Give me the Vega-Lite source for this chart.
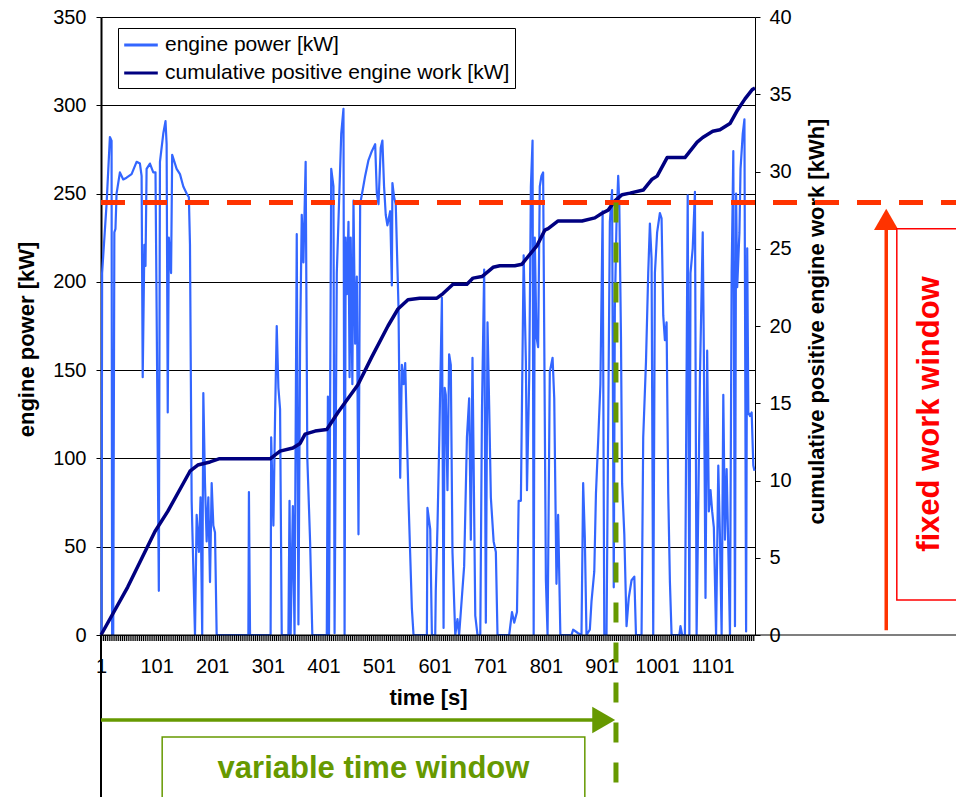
{
  "$schema": "https://vega.github.io/schema/vega-lite/v6.json",
  "width": 654,
  "height": 618,
  "autosize": {"type": "none"},
  "padding": {"left": 101, "top": 17, "right": 201, "bottom": 162},
  "background": "white",
  "config": {
    "font": "Liberation Sans",
    "view": {"stroke": null},
    "axis": {
      "domainColor": "#000",
      "tickColor": "#000",
      "labelColor": "#000",
      "titleColor": "#000",
      "labelFont": "Liberation Sans",
      "titleFont": "Liberation Sans",
      "labelFontSize": 20,
      "titleFontSize": 22,
      "titleFontWeight": "bold"
    }
  },
  "datasets": {
    "power": [
      {"t": 1, "kw": 0}, {"t": 2, "kw": 0}, {"t": 3, "kw": 205}, {"t": 11, "kw": 244}, {"t": 17, "kw": 282}, {"t": 20, "kw": 280}, {"t": 21, "kw": 0}, {"t": 23, "kw": 0}, {"t": 25, "kw": 228}, {"t": 27, "kw": 230}, {"t": 29, "kw": 250}, {"t": 35, "kw": 262}, {"t": 41, "kw": 258}, {"t": 47, "kw": 259}, {"t": 56, "kw": 261}, {"t": 65, "kw": 268}, {"t": 71, "kw": 267}, {"t": 74, "kw": 260}, {"t": 76, "kw": 146}, {"t": 79, "kw": 221}, {"t": 81, "kw": 209}, {"t": 83, "kw": 264}, {"t": 89, "kw": 267}, {"t": 95, "kw": 262}, {"t": 99, "kw": 262}, {"t": 101, "kw": 185}, {"t": 105, "kw": 25}, {"t": 107, "kw": 268}, {"t": 113, "kw": 284}, {"t": 117, "kw": 291}, {"t": 119, "kw": 278}, {"t": 121, "kw": 126}, {"t": 123, "kw": 225}, {"t": 127, "kw": 205}, {"t": 129, "kw": 272}, {"t": 137, "kw": 264}, {"t": 143, "kw": 261}, {"t": 149, "kw": 254}, {"t": 155, "kw": 250}, {"t": 159, "kw": 248}, {"t": 161, "kw": 221}, {"t": 164, "kw": 76}, {"t": 170, "kw": 0}, {"t": 173, "kw": 68}, {"t": 177, "kw": 47}, {"t": 180, "kw": 78}, {"t": 183, "kw": 0}, {"t": 185, "kw": 137}, {"t": 188, "kw": 86}, {"t": 191, "kw": 53}, {"t": 194, "kw": 78}, {"t": 197, "kw": 30}, {"t": 200, "kw": 86}, {"t": 203, "kw": 62}, {"t": 206, "kw": 58}, {"t": 209, "kw": 0},
      {"t": 266, "kw": 0}, {"t": 267, "kw": 81}, {"t": 269, "kw": 0}, {"t": 306, "kw": 0}, {"t": 307, "kw": 112}, {"t": 311, "kw": 62}, {"t": 314, "kw": 124}, {"t": 317, "kw": 175}, {"t": 320, "kw": 140}, {"t": 323, "kw": 128}, {"t": 326, "kw": 0}, {"t": 338, "kw": 0}, {"t": 340, "kw": 76}, {"t": 342, "kw": 0}, {"t": 346, "kw": 73}, {"t": 349, "kw": 0}, {"t": 353, "kw": 227}, {"t": 356, "kw": 6}, {"t": 359, "kw": 165}, {"t": 362, "kw": 238}, {"t": 365, "kw": 211}, {"t": 369, "kw": 268}, {"t": 372, "kw": 100}, {"t": 377, "kw": 53}, {"t": 381, "kw": 0},
      {"t": 407, "kw": 0}, {"t": 409, "kw": 135}, {"t": 411, "kw": 0}, {"t": 415, "kw": 264}, {"t": 419, "kw": 254}, {"t": 421, "kw": 1}, {"t": 425, "kw": 205}, {"t": 433, "kw": 284}, {"t": 437, "kw": 298}, {"t": 439, "kw": 0}, {"t": 441, "kw": 225}, {"t": 443, "kw": 193}, {"t": 446, "kw": 234}, {"t": 448, "kw": 146}, {"t": 450, "kw": 225}, {"t": 453, "kw": 142}, {"t": 455, "kw": 246}, {"t": 458, "kw": 165}, {"t": 461, "kw": 203}, {"t": 464, "kw": 57}, {"t": 467, "kw": 244}, {"t": 471, "kw": 251}, {"t": 476, "kw": 260}, {"t": 482, "kw": 269}, {"t": 488, "kw": 274}, {"t": 494, "kw": 278}, {"t": 497, "kw": 250}, {"t": 500, "kw": 244}, {"t": 504, "kw": 276}, {"t": 507, "kw": 280}, {"t": 510, "kw": 254}, {"t": 513, "kw": 238}, {"t": 516, "kw": 232}, {"t": 521, "kw": 240}, {"t": 524, "kw": 198}, {"t": 525, "kw": 256}, {"t": 528, "kw": 248}, {"t": 531, "kw": 244}, {"t": 536, "kw": 185}, {"t": 539, "kw": 89}, {"t": 542, "kw": 153}, {"t": 545, "kw": 142}, {"t": 548, "kw": 154}, {"t": 554, "kw": 76}, {"t": 560, "kw": 15}, {"t": 563, "kw": 0},
      {"t": 587, "kw": 0}, {"t": 588, "kw": 72}, {"t": 593, "kw": 60}, {"t": 596, "kw": 0}, {"t": 602, "kw": 0}, {"t": 603, "kw": 25}, {"t": 606, "kw": 61}, {"t": 609, "kw": 106}, {"t": 614, "kw": 191}, {"t": 617, "kw": 4}, {"t": 619, "kw": 140}, {"t": 621, "kw": 136}, {"t": 624, "kw": 82}, {"t": 627, "kw": 159}, {"t": 630, "kw": 153}, {"t": 633, "kw": 47}, {"t": 638, "kw": 0}, {"t": 642, "kw": 9}, {"t": 645, "kw": 0}, {"t": 654, "kw": 39}, {"t": 659, "kw": 112}, {"t": 663, "kw": 134}, {"t": 666, "kw": 54}, {"t": 669, "kw": 157}, {"t": 674, "kw": 11}, {"t": 678, "kw": 0}, {"t": 683, "kw": 0}, {"t": 686, "kw": 126}, {"t": 690, "kw": 207}, {"t": 693, "kw": 7}, {"t": 696, "kw": 177}, {"t": 699, "kw": 130}, {"t": 702, "kw": 78}, {"t": 707, "kw": 53}, {"t": 711, "kw": 47}, {"t": 714, "kw": 0},
      {"t": 735, "kw": 0}, {"t": 740, "kw": 13}, {"t": 744, "kw": 7}, {"t": 749, "kw": 13}, {"t": 752, "kw": 76}, {"t": 756, "kw": 76}, {"t": 761, "kw": 215}, {"t": 765, "kw": 155}, {"t": 767, "kw": 82}, {"t": 771, "kw": 146}, {"t": 774, "kw": 254}, {"t": 777, "kw": 280}, {"t": 779, "kw": 0}, {"t": 781, "kw": 225}, {"t": 784, "kw": 169}, {"t": 787, "kw": 163}, {"t": 790, "kw": 254}, {"t": 793, "kw": 260}, {"t": 796, "kw": 262}, {"t": 801, "kw": 31}, {"t": 804, "kw": 0}, {"t": 808, "kw": 149}, {"t": 813, "kw": 157}, {"t": 816, "kw": 134}, {"t": 820, "kw": 29}, {"t": 823, "kw": 68}, {"t": 827, "kw": 0},
      {"t": 847, "kw": 0}, {"t": 850, "kw": 3}, {"t": 859, "kw": 1}, {"t": 865, "kw": 0}, {"t": 868, "kw": 86}, {"t": 871, "kw": 55}, {"t": 874, "kw": 0}, {"t": 880, "kw": 3}, {"t": 883, "kw": 19}, {"t": 888, "kw": 36}, {"t": 891, "kw": 80}, {"t": 895, "kw": 110}, {"t": 899, "kw": 142}, {"t": 903, "kw": 240}, {"t": 906, "kw": 0}, {"t": 910, "kw": 0}, {"t": 916, "kw": 234}, {"t": 920, "kw": 252}, {"t": 923, "kw": 27}, {"t": 925, "kw": 185}, {"t": 928, "kw": 234}, {"t": 931, "kw": 260}, {"t": 933, "kw": 244}, {"t": 936, "kw": 169}, {"t": 938, "kw": 86}, {"t": 942, "kw": 57}, {"t": 946, "kw": 5}, {"t": 950, "kw": 21}, {"t": 955, "kw": 31}, {"t": 960, "kw": 33}, {"t": 963, "kw": 0},
      {"t": 973, "kw": 0}, {"t": 976, "kw": 112}, {"t": 981, "kw": 155}, {"t": 985, "kw": 205}, {"t": 988, "kw": 233}, {"t": 991, "kw": 213}, {"t": 994, "kw": 0}, {"t": 997, "kw": 205}, {"t": 1001, "kw": 228}, {"t": 1006, "kw": 239}, {"t": 1009, "kw": 236}, {"t": 1012, "kw": 181}, {"t": 1015, "kw": 167}, {"t": 1018, "kw": 177}, {"t": 1021, "kw": 80}, {"t": 1024, "kw": 30}, {"t": 1027, "kw": 0}, {"t": 1041, "kw": 0}, {"t": 1043, "kw": 5}, {"t": 1046, "kw": 0}, {"t": 1051, "kw": 0}, {"t": 1056, "kw": 249}, {"t": 1059, "kw": 0}, {"t": 1061, "kw": 205}, {"t": 1065, "kw": 219}, {"t": 1069, "kw": 251}, {"t": 1072, "kw": 0}, {"t": 1078, "kw": 146}, {"t": 1083, "kw": 228}, {"t": 1085, "kw": 161}, {"t": 1088, "kw": 21}, {"t": 1091, "kw": 161}, {"t": 1094, "kw": 70}, {"t": 1097, "kw": 82}, {"t": 1100, "kw": 70}, {"t": 1103, "kw": 61}, {"t": 1107, "kw": 0}, {"t": 1111, "kw": 96}, {"t": 1114, "kw": 55}, {"t": 1117, "kw": 0}, {"t": 1120, "kw": 136}, {"t": 1123, "kw": 54}, {"t": 1126, "kw": 94}, {"t": 1129, "kw": 49}, {"t": 1132, "kw": 0}, {"t": 1135, "kw": 205}, {"t": 1138, "kw": 274}, {"t": 1141, "kw": 5}, {"t": 1143, "kw": 250}, {"t": 1145, "kw": 197}, {"t": 1149, "kw": 228}, {"t": 1151, "kw": 264}, {"t": 1155, "kw": 284}, {"t": 1158, "kw": 292}, {"t": 1161, "kw": 2}, {"t": 1163, "kw": 219}, {"t": 1165, "kw": 126}, {"t": 1168, "kw": 124}, {"t": 1171, "kw": 126}, {"t": 1174, "kw": 96}, {"t": 1176, "kw": 93}
    ],
    "work": [
      {"t": 1, "kwh": 0}, {"t": 49, "kwh": 3.1}, {"t": 98, "kwh": 6.7}, {"t": 121, "kwh": 8.0}, {"t": 161, "kwh": 10.6}, {"t": 175, "kwh": 11.0}, {"t": 197, "kwh": 11.2}, {"t": 213, "kwh": 11.4}, {"t": 305, "kwh": 11.4}, {"t": 323, "kwh": 11.9}, {"t": 346, "kwh": 12.1}, {"t": 359, "kwh": 12.4}, {"t": 368, "kwh": 13.0}, {"t": 386, "kwh": 13.2}, {"t": 407, "kwh": 13.3}, {"t": 427, "kwh": 14.4}, {"t": 463, "kwh": 16.2}, {"t": 488, "kwh": 18.0}, {"t": 517, "kwh": 20.0}, {"t": 535, "kwh": 21.1}, {"t": 553, "kwh": 21.7}, {"t": 574, "kwh": 21.8}, {"t": 605, "kwh": 21.8}, {"t": 616, "kwh": 22.1}, {"t": 634, "kwh": 22.7}, {"t": 659, "kwh": 22.7}, {"t": 670, "kwh": 23.1}, {"t": 686, "kwh": 23.2}, {"t": 706, "kwh": 23.8}, {"t": 718, "kwh": 23.9}, {"t": 745, "kwh": 23.9}, {"t": 758, "kwh": 24.0}, {"t": 769, "kwh": 24.5}, {"t": 785, "kwh": 25.2}, {"t": 799, "kwh": 26.2}, {"t": 805, "kwh": 26.3}, {"t": 823, "kwh": 26.8}, {"t": 866, "kwh": 26.8}, {"t": 889, "kwh": 27.0}, {"t": 902, "kwh": 27.3}, {"t": 913, "kwh": 27.5}, {"t": 925, "kwh": 28.1}, {"t": 938, "kwh": 28.5}, {"t": 952, "kwh": 28.6}, {"t": 976, "kwh": 28.8}, {"t": 992, "kwh": 29.5}, {"t": 1001, "kwh": 29.7}, {"t": 1019, "kwh": 30.9}, {"t": 1051, "kwh": 30.9}, {"t": 1073, "kwh": 31.9}, {"t": 1083, "kwh": 32.2}, {"t": 1101, "kwh": 32.6}, {"t": 1114, "kwh": 32.7}, {"t": 1132, "kwh": 33.1}, {"t": 1146, "kwh": 34.0}, {"t": 1159, "kwh": 34.7}, {"t": 1172, "kwh": 35.3}, {"t": 1177, "kwh": 35.4}
    ]
  },
  "layer": [
    {
      "data": {"name": "power"},
      "mark": {"type": "line", "strokeWidth": 2.2, "strokeJoin": "round"},
      "encoding": {
        "x": {
          "field": "t",
          "type": "quantitative",
          "scale": {"domain": [1, 1177], "nice": false, "zero": false},
          "axis": {
            "title": "time [s]",
            "format": "d",
            "values": [1, 101, 201, 301, 401, 501, 601, 701, 801, 901, 1001, 1101],
            "ticks": false,
            "tickSize": 0,
            "domain": false,
            "grid": false,
            "labelPadding": 21,
            "labelFlush": false,
            "labelOverlap": false,
            "titlePadding": 11
          }
        },
        "y": {
          "field": "kw",
          "type": "quantitative",
          "scale": {"domain": [0, 350], "nice": false},
          "axis": {
            "title": "engine power [kW]",
            "values": [0, 50, 100, 150, 200, 250, 300, 350],
            "grid": true,
            "gridColor": "#000",
            "gridWidth": 1,
            "domainWidth": 2,
            "tickSize": 5,
            "labelPadding": 10,
            "titlePadding": 14,
            "titleY": 322
          }
        },
        "color": {
          "datum": "engine power [kW]",
          "type": "nominal",
          "scale": {
            "domain": ["engine power [kW]", "cumulative positive engine work [kW]"],
            "range": ["#3366ff", "#000080"]
          },
          "legend": {
            "title": null,
            "orient": "none",
            "legendX": 17,
            "legendY": 11,
            "symbolType": "M-1.6,0H1.6",
            "symbolSize": 441,
            "symbolStrokeWidth": 3,
            "symbolOffset": 6,
            "labelFont": "Liberation Sans",
            "labelFontSize": 21,
            "labelColor": "#000",
            "labelLimit": 600,
            "labelOffset": 12,
            "padding": 5,
            "rowPadding": 6,
            "strokeColor": "#000",
            "fillColor": "#fff"
          }
        }
      }
    },
    {
      "data": {"name": "work"},
      "mark": {"type": "line", "strokeWidth": 3.5, "strokeJoin": "round"},
      "encoding": {
        "x": {"field": "t", "type": "quantitative", "scale": {"domain": [1, 1177], "nice": false, "zero": false}, "axis": null},
        "y": {
          "field": "kwh",
          "type": "quantitative",
          "scale": {"domain": [0, 40], "nice": false},
          "axis": {
            "orient": "right",
            "title": "cumulative positive engine work [kWh]",
            "titleAngle": 270,
            "titleX": 61,
            "titleY": 304,
            "titleAlign": "center",
            "titleBaseline": "middle",
            "values": [0, 5, 10, 15, 20, 25, 30, 35, 40],
            "grid": false,
            "tickSize": 5,
            "labelPadding": 9
          }
        },
        "color": {"datum": "cumulative positive engine work [kW]", "type": "nominal"}
      }
    },
    {
      "data": {"values": [{}]},
      "layer": [
        {
          "mark": {"type": "rule", "color": "#000", "strokeWidth": 6, "strokeDash": [1.2, 0.7]},
          "encoding": {
            "x": {"datum": 1, "type": "quantitative", "scale": {"domain": [1, 1177], "nice": false, "zero": false}, "axis": null},
            "x2": {"datum": 1177},
            "y": {"datum": -0.19, "type": "quantitative", "scale": {"domain": [0, 40], "nice": false, "zero": false}, "axis": null}
          }
        },
        {
          "mark": {"type": "rule", "color": "#000", "strokeWidth": 1.2},
          "encoding": {
            "x": {"datum": 1, "type": "quantitative", "axis": null},
            "x2": {"datum": 1560},
            "y": {"datum": 0, "type": "quantitative", "axis": null}
          }
        },
        {
          "mark": {"type": "rule", "color": "#000", "strokeWidth": 2},
          "encoding": {
            "x": {"datum": 1, "type": "quantitative", "axis": null},
            "y": {"datum": 0, "type": "quantitative", "axis": null},
            "y2": {"datum": -10.7}
          }
        },
        {
          "mark": {"type": "rule", "color": "#ff3300", "strokeWidth": 5, "strokeDash": [24, 18]},
          "encoding": {
            "x": {"datum": 1, "type": "quantitative", "axis": null},
            "x2": {"datum": 1560},
            "y": {"datum": 28, "type": "quantitative", "axis": null}
          }
        },
        {
          "mark": {"type": "rule", "color": "#669900", "strokeWidth": 5, "strokeDash": [20, 20]},
          "encoding": {
            "x": {"datum": 927, "type": "quantitative", "axis": null},
            "y": {"datum": 28, "type": "quantitative", "axis": null},
            "y2": {"datum": -10.7}
          }
        },
        {
          "mark": {"type": "rule", "color": "#669900", "strokeWidth": 3.5},
          "encoding": {
            "x": {"datum": 1, "type": "quantitative", "axis": null},
            "x2": {"datum": 905},
            "y": {"datum": -5.5, "type": "quantitative", "axis": null}
          }
        },
        {
          "mark": {"type": "point", "shape": "triangle-right", "filled": true, "opacity": 1, "size": 700, "color": "#669900"},
          "encoding": {
            "x": {"datum": 905, "type": "quantitative", "axis": null},
            "y": {"datum": -5.5, "type": "quantitative", "axis": null}
          }
        },
        {
          "mark": {"type": "rect", "fill": "#fff", "stroke": "#669900", "strokeWidth": 1.5},
          "encoding": {
            "x": {"datum": 111, "type": "quantitative", "axis": null},
            "x2": {"datum": 871},
            "y": {"datum": -6.6, "type": "quantitative", "axis": null},
            "y2": {"datum": -10.65}
          }
        },
        {
          "mark": {"type": "text", "text": "variable time window", "font": "Liberation Sans", "fontSize": 31, "fontWeight": "bold", "color": "#669900", "align": "center", "baseline": "middle"},
          "encoding": {
            "x": {"datum": 491, "type": "quantitative", "axis": null},
            "y": {"datum": -8.7, "type": "quantitative", "axis": null}
          }
        },
        {
          "mark": {"type": "rule", "color": "#ff3300", "strokeWidth": 3.5},
          "encoding": {
            "x": {"datum": 1413, "type": "quantitative", "axis": null},
            "y": {"datum": 0.3, "type": "quantitative", "axis": null},
            "y2": {"datum": 26.5}
          }
        },
        {
          "mark": {"type": "point", "shape": "triangle-up", "filled": true, "opacity": 1, "size": 600, "color": "#ff3300"},
          "encoding": {
            "x": {"datum": 1413, "type": "quantitative", "axis": null},
            "y": {"datum": 26.9, "type": "quantitative", "axis": null}
          }
        },
        {
          "mark": {"type": "rect", "fill": "#fff", "stroke": "#ff0000", "strokeWidth": 1.5},
          "encoding": {
            "x": {"datum": 1432, "type": "quantitative", "axis": null},
            "x2": {"datum": 1570},
            "y": {"datum": 2.27, "type": "quantitative", "axis": null},
            "y2": {"datum": 26.3}
          }
        },
        {
          "mark": {"type": "text", "text": "fixed work window", "angle": 270, "font": "Liberation Sans", "fontSize": 31, "fontWeight": "bold", "color": "#ff0000", "align": "center", "baseline": "middle"},
          "encoding": {
            "x": {"datum": 1491, "type": "quantitative", "axis": null},
            "y": {"datum": 14.3, "type": "quantitative", "axis": null}
          }
        }
      ]
    }
  ],
  "resolve": {"scale": {"x": "independent", "y": "independent"}}
}
